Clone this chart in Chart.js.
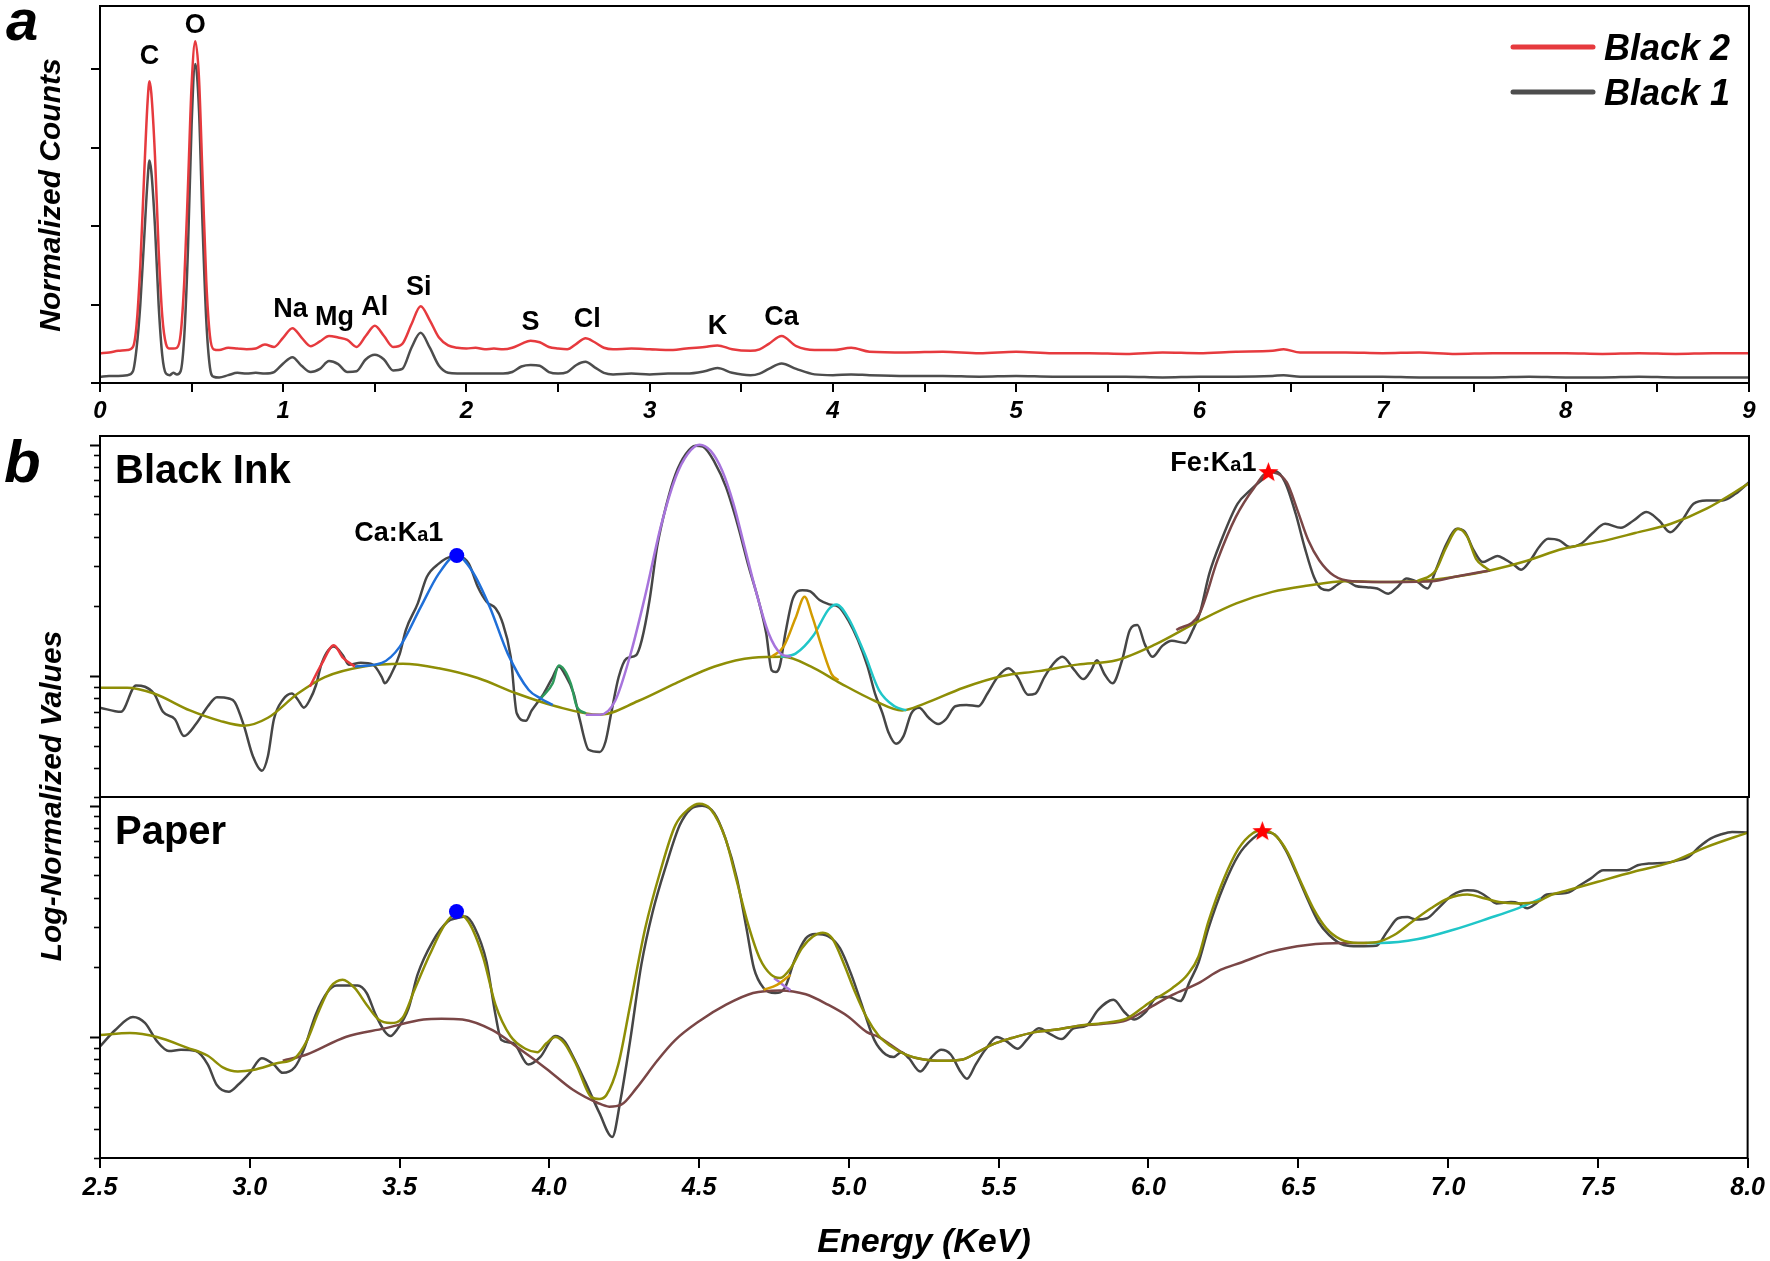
<!DOCTYPE html>
<html>
<head>
<meta charset="utf-8">
<script src="https://cdn.jsdelivr.net/npm/chart.js@4.4.1/dist/chart.umd.min.js"></script>
<style>
  html, body { margin: 0; padding: 0; background: #fff; }
  #wrap { position: relative; width: 1770px; height: 1261px; }
  #wrap canvas { position: absolute; left: 0; top: 0; }
</style>
</head>
<body>
<div id="wrap">
  <canvas id="chartA" width="1770" height="1261"></canvas>
  <canvas id="chartInk" width="1770" height="1261"></canvas>
  <canvas id="chartPaper" width="1770" height="1261"></canvas>
</div>
<script>
// ---- panel a : EDS spectra (energy in keV, normalized counts) ----
const energyA = [
  0, 0.05, 0.1, 0.15,
  0.18, 0.2, 0.22, 0.24, 0.26, 0.27, 0.28, 0.3, 0.32, 0.34, 0.36, 0.38, 0.4,
  0.42, 0.44, 0.46, 0.48, 0.5, 0.52, 0.54, 0.56, 0.58, 0.6, 0.62, 0.65,
  0.7, 0.75, 0.8, 0.85, 0.9, 0.95, 1.0, 1.05, 1.1, 1.15, 1.2, 1.25, 1.3, 1.35, 1.4, 1.45, 1.5, 1.55, 1.6, 1.65, 1.7, 1.75, 1.8, 1.85, 1.9, 1.95,
  2.0, 2.05, 2.1, 2.15, 2.2, 2.25, 2.3, 2.35, 2.4, 2.45, 2.5, 2.55, 2.6, 2.65, 2.7, 2.75, 2.8,
  2.9, 3.0, 3.1, 3.2, 3.3, 3.37, 3.45, 3.55, 3.6, 3.65, 3.72, 3.8, 3.9, 4.0, 4.1, 4.2,
  4.4, 4.6, 4.8, 5.0, 5.2, 5.4, 5.6, 5.8, 6.0, 6.2, 6.4, 6.46, 6.55, 6.8, 7.0, 7.2, 7.4, 7.6, 7.8, 8.0, 8.2, 8.4, 8.6, 8.8, 9.0
];
const black2Counts = [
  0.38, 0.39, 0.41, 0.42,
  0.46, 0.75, 1.5, 2.6, 3.6, 3.85, 3.7, 2.9, 1.7, 0.85, 0.5, 0.44, 0.44,
  0.45, 0.62, 1.3, 2.5, 3.8, 4.36, 3.9, 2.6, 1.3, 0.6, 0.43, 0.42,
  0.45, 0.44, 0.43, 0.44, 0.49, 0.46, 0.58, 0.70, 0.58, 0.47, 0.53, 0.60, 0.58, 0.55, 0.46, 0.60, 0.73, 0.60, 0.46, 0.50, 0.75, 0.98, 0.80, 0.58, 0.48, 0.45,
  0.44, 0.45, 0.43, 0.44, 0.43, 0.45, 0.50, 0.54, 0.52, 0.46, 0.44, 0.43, 0.50, 0.57, 0.52, 0.45, 0.43,
  0.44, 0.43, 0.42, 0.44, 0.46, 0.48, 0.43, 0.41, 0.43, 0.50, 0.60, 0.47, 0.42, 0.42, 0.45, 0.40,
  0.39, 0.40, 0.38, 0.40, 0.38, 0.38, 0.37, 0.39, 0.38, 0.40, 0.41, 0.43, 0.39, 0.39, 0.38, 0.39, 0.37, 0.38, 0.38, 0.38, 0.37, 0.38, 0.37, 0.38, 0.38
];
const black1Counts = [
  0.08, 0.09, 0.09, 0.10,
  0.15, 0.45, 1.0, 1.8, 2.6, 2.84, 2.7, 2.0, 1.0, 0.35, 0.12, 0.10, 0.13,
  0.11, 0.15, 0.6, 1.7, 3.3, 4.07, 3.5, 2.0, 0.8, 0.2, 0.08, 0.07,
  0.10, 0.13, 0.12, 0.13, 0.12, 0.14, 0.25, 0.33, 0.22, 0.14, 0.18, 0.28, 0.24, 0.14, 0.15, 0.30, 0.36, 0.30, 0.16, 0.18, 0.45, 0.64, 0.45, 0.22, 0.13, 0.12,
  0.12, 0.12, 0.12, 0.12, 0.12, 0.14, 0.21, 0.23, 0.22, 0.14, 0.12, 0.14, 0.23, 0.27, 0.20, 0.13, 0.11,
  0.12, 0.11, 0.12, 0.12, 0.15, 0.19, 0.13, 0.10, 0.12, 0.18, 0.25, 0.18, 0.11, 0.10, 0.11, 0.10,
  0.09, 0.09, 0.08, 0.09, 0.08, 0.08, 0.08, 0.07, 0.08, 0.08, 0.09, 0.10, 0.08, 0.08, 0.08, 0.07, 0.07, 0.07, 0.08, 0.07, 0.07, 0.08, 0.07, 0.07, 0.07
];
const elementNames = ['C', 'O', 'Na', 'Mg', 'Al', 'Si', 'S', 'Cl', 'K', 'Ca'];
const elementEnergy = [0.27, 0.52, 1.04, 1.28, 1.5, 1.74, 2.35, 2.66, 3.37, 3.72];
const axisATicks = [0, 1, 2, 3, 4];

// ---- panel b : Black Ink (log-normalized) ----
const inkRaw = [
  [2.5,0.73],[2.57,0.70],[2.62,0.91],[2.68,0.84],[2.71,0.70],[2.75,0.65],[2.78,0.55],[2.82,0.62],[2.86,0.74],[2.89,0.81],
  [2.93,0.80],[2.95,0.77],[2.98,0.61],[3.01,0.45],[3.04,0.39],[3.06,0.45],[3.08,0.65],[3.11,0.79],[3.14,0.84],[3.16,0.79],
  [3.18,0.73],[3.2,0.79],[3.22,0.91],[3.24,1.14],[3.28,1.34],[3.31,1.23],[3.33,1.12],[3.37,1.14],[3.41,1.12],[3.44,0.99],
  [3.45,0.93],[3.47,1.01],[3.5,1.25],[3.52,1.58],[3.56,2.06],[3.59,2.68],[3.63,3.06],[3.67,3.27],[3.7,3.27],[3.73,3.06],
  [3.76,2.43],[3.79,2.09],[3.82,1.96],[3.84,1.74],[3.87,1.21],[3.89,0.69],[3.92,0.64],[3.94,0.71],[3.98,0.84],[4.01,0.99],
  [4.03,1.10],[4.05,1.02],[4.08,0.84],[4.1,0.65],[4.13,0.48],[4.167,0.47],[4.186,0.52],[4.205,0.69],[4.23,0.99],[4.256,1.19],
  [4.288,1.23],[4.307,1.43],[4.333,2.13],[4.358,3.61],[4.39,5.55],[4.42,7.48],[4.454,9.12],[4.486,9.9],[4.511,9.8],[4.55,8.39],
  [4.588,6.55],[4.626,4.55],[4.664,2.96],[4.696,2.13],[4.722,1.53],[4.74,1.06],[4.754,1.04],[4.767,1.10],[4.786,1.53],[4.811,2.16],
  [4.843,2.35],[4.869,2.32],[4.9,2.13],[4.932,2.04],[4.964,1.99],[4.996,1.74],[5.028,1.43],[5.06,1.10],[5.085,0.84],[5.11,0.69],
  [5.13,0.57],[5.155,0.51],[5.18,0.55],[5.206,0.69],[5.232,0.73],[5.264,0.66],[5.296,0.62],[5.321,0.65],[5.353,0.74],[5.39,0.75],
  [5.43,0.74],[5.46,0.84],[5.494,0.99],[5.53,1.08],[5.56,0.99],[5.595,0.83],[5.62,0.84],[5.65,0.99],[5.685,1.15],[5.71,1.21],
  [5.75,1.06],[5.78,0.97],[5.806,1.06],[5.825,1.17],[5.85,1.02],[5.877,0.93],[5.909,1.17],[5.935,1.58],[5.96,1.66],[5.985,1.37],
  [6.01,1.21],[6.043,1.35],[6.075,1.42],[6.12,1.39],[6.145,1.58],[6.168,1.86],[6.2,2.77],[6.24,3.86],[6.294,5.55],[6.336,6.34],
  [6.373,7.0],[6.42,7.67],[6.452,6.9],[6.488,5.03],[6.518,3.6],[6.549,2.68],[6.573,2.39],[6.597,2.35],[6.627,2.48],[6.652,2.59],
  [6.688,2.45],[6.725,2.42],[6.76,2.39],[6.797,2.27],[6.827,2.42],[6.858,2.64],[6.894,2.55],[6.928,2.39],[6.955,2.86],[6.991,3.73],
  [7.027,4.33],[7.052,4.2],[7.082,3.49],[7.112,3.11],[7.136,3.2],[7.161,3.3],[7.185,3.2],[7.215,3.03],[7.24,2.88],[7.27,3.15],
  [7.3,3.61],[7.33,3.92],[7.367,3.86],[7.403,3.61],[7.44,3.73],[7.476,4.12],[7.52,4.55],[7.573,4.37],[7.615,4.7],[7.658,5.11],
  [7.7,4.7],[7.737,4.18],[7.773,4.63],[7.815,5.55],[7.858,5.74],[7.912,5.74],[7.955,6.13],[8.0,6.88]
];
const inkBackground = [
  [2.5,0.89],[2.59,0.89],[2.68,0.84],[2.8,0.71],[2.9,0.64],[2.98,0.61],[3.06,0.66],[3.16,0.84],[3.25,0.99],[3.38,1.10],
  [3.51,1.13],[3.63,1.08],[3.76,0.98],[3.89,0.84],[4.02,0.74],[4.167,0.68],[4.295,0.78],[4.42,0.93],[4.55,1.10],[4.677,1.2],
  [4.78,1.21],[4.87,1.10],[4.97,0.93],[5.085,0.78],[5.175,0.71],[5.25,0.76],[5.38,0.89],[5.51,1.0],[5.63,1.05],[5.76,1.12],
  [5.89,1.17],[6.02,1.37],[6.17,1.74],[6.29,2.06],[6.41,2.31],[6.53,2.46],[6.65,2.57],[6.77,2.55],[6.89,2.57],[7.015,2.68],
  [7.136,2.86],[7.26,3.15],[7.38,3.55],[7.5,3.8],[7.62,4.15],[7.74,4.55],[7.86,5.3],[8.0,6.8]
];
const inkPeakK = [[3.2,0.9],[3.24,1.13],[3.28,1.36],[3.31,1.2],[3.35,1.1]];
const inkPeakCa = [[3.35,1.1],[3.44,1.14],[3.5,1.34],[3.57,1.99],[3.63,2.77],[3.69,3.32],[3.74,2.86],[3.8,1.99],[3.86,1.25],[3.93,0.87],[3.97,0.80],[4.01,0.75]];
const inkPeak403 = [[3.97,0.80],[4.01,0.93],[4.03,1.11],[4.07,0.93],[4.09,0.74],[4.12,0.69]];
const inkPeak450 = [[4.12,0.68],[4.167,0.68],[4.218,0.78],[4.27,1.25],[4.32,2.27],[4.37,4.4],[4.42,7.23],[4.46,9.12],[4.5,10.0],[4.537,9.4],[4.575,7.73],[4.613,5.55],[4.65,3.61],[4.69,2.27],[4.73,1.53],[4.77,1.25],[4.805,1.21]];
const inkPeak485 = [[4.74,1.21],[4.78,1.34],[4.82,1.78],[4.85,2.2],[4.875,1.82],[4.907,1.34],[4.94,1.02],[4.963,0.96]];
const inkPeak496 = [[4.77,1.21],[4.82,1.25],[4.88,1.5],[4.93,1.94],[4.956,2.04],[4.996,1.78],[5.05,1.25],[5.098,0.87],[5.15,0.74],[5.19,0.71]];
const inkPeakFe = [[6.09,1.58],[6.167,1.86],[6.227,3.16],[6.288,4.86],[6.349,6.5],[6.397,7.6],[6.458,6.88],[6.494,5.2],[6.53,3.86],[6.567,3.16],[6.615,2.72],[6.676,2.57],[6.773,2.55],[6.943,2.57],[7.015,2.68],[7.136,2.86]];
const inkPeak705 = [[6.894,2.57],[6.955,2.86],[6.99,3.6],[7.03,4.33],[7.06,4.0],[7.09,3.2],[7.12,2.95],[7.136,2.86]];
const inkCaMark = [[3.69, 3.32]];
const inkFeMark = [[6.397, 7.65]];

// ---- panel b : Paper ----
const paperRaw = [
  [2.5,0.91],[2.55,1.07],[2.61,1.22],[2.65,1.15],[2.69,0.96],[2.73,0.87],[2.77,0.88],[2.82,0.87],[2.86,0.76],[2.89,0.62],
  [2.93,0.58],[2.96,0.62],[3.0,0.70],[3.04,0.81],[3.08,0.76],[3.11,0.70],[3.15,0.74],[3.18,0.88],[3.22,1.25],[3.26,1.57],
  [3.29,1.67],[3.36,1.67],[3.39,1.55],[3.42,1.25],[3.45,1.06],[3.47,1.01],[3.49,1.07],[3.53,1.33],[3.56,1.86],[3.61,2.58],
  [3.66,3.15],[3.69,3.26],[3.72,3.32],[3.75,2.98],[3.79,2.12],[3.82,1.25],[3.84,0.97],[3.88,0.94],[3.93,0.76],[3.97,0.82],
  [4.02,1.01],[4.05,0.96],[4.08,0.82],[4.12,0.64],[4.167,0.47],[4.21,0.37],[4.237,0.53],[4.27,0.97],[4.307,2.05],[4.345,3.48],
  [4.39,5.53],[4.435,8.22],[4.473,9.7],[4.51,10.0],[4.55,9.3],[4.588,7.2],[4.626,4.84],[4.658,2.95],[4.683,1.98],[4.715,1.63],
  [4.754,1.55],[4.786,1.63],[4.817,2.12],[4.856,2.67],[4.888,2.79],[4.932,2.72],[4.97,2.42],[5.008,1.86],[5.047,1.33],[5.085,0.97],
  [5.123,0.84],[5.149,0.82],[5.175,0.86],[5.2,0.81],[5.238,0.71],[5.277,0.82],[5.308,0.88],[5.34,0.84],[5.372,0.71],[5.394,0.66],
  [5.423,0.76],[5.455,0.88],[5.494,1.0],[5.525,0.96],[5.564,0.89],[5.596,0.98],[5.634,1.09],[5.672,1.03],[5.71,0.98],[5.75,1.09],
  [5.793,1.12],[5.832,1.31],[5.883,1.45],[5.92,1.28],[5.953,1.19],[5.99,1.28],[6.03,1.49],[6.067,1.49],[6.106,1.43],[6.138,1.74],
  [6.167,2.1],[6.2,2.95],[6.252,4.53],[6.3,6.1],[6.348,7.2],[6.385,7.7],[6.421,7.5],[6.458,6.42],[6.494,5.09],[6.53,3.97],
  [6.567,3.15],[6.603,2.76],[6.652,2.5],[6.7,2.47],[6.76,2.48],[6.797,2.86],[6.833,3.26],[6.864,3.3],[6.894,3.22],[6.93,3.26],
  [6.967,3.6],[7.015,4.11],[7.064,4.31],[7.1,4.25],[7.136,3.98],[7.161,3.78],[7.21,3.83],[7.236,3.78],[7.264,3.6],[7.294,3.78],
  [7.33,4.13],[7.379,4.17],[7.403,4.22],[7.44,4.53],[7.476,4.84],[7.518,5.26],[7.561,5.26],[7.597,5.26],[7.633,5.53],[7.67,5.62],
  [7.73,5.67],[7.767,5.8],[7.803,6.01],[7.839,6.64],[7.876,7.2],[7.912,7.52],[7.948,7.7],[8.0,7.65]
];
const paperFit = [
  [2.5,1.02],[2.6,1.04],[2.69,1.0],[2.79,0.9],[2.86,0.83],[2.91,0.74],[2.96,0.71],[3.01,0.72],[3.09,0.77],[3.15,0.81],
  [3.19,0.96],[3.23,1.29],[3.27,1.65],[3.31,1.77],[3.35,1.63],[3.39,1.38],[3.43,1.19],[3.47,1.15],[3.51,1.21],[3.55,1.6],
  [3.6,2.26],[3.65,3.05],[3.69,3.42],[3.73,3.15],[3.78,2.19],[3.82,1.38],[3.87,1.01],[3.92,0.89],[3.96,0.86],[3.99,0.94],
  [4.02,1.0],[4.05,0.94],[4.09,0.76],[4.14,0.55],[4.167,0.54],[4.19,0.56],[4.23,0.76],[4.27,1.38],[4.32,2.95],[4.37,5.18],
  [4.42,8.2],[4.466,9.7],[4.5,10.2],[4.537,9.7],[4.588,7.2],[4.626,4.7],[4.664,3.05],[4.702,2.19],[4.74,1.86],[4.77,1.8],
  [4.805,1.98],[4.843,2.42],[4.88,2.72],[4.913,2.82],[4.944,2.67],[4.982,2.09],[5.02,1.57],[5.06,1.21],[5.1,1.01],[5.136,0.92],
  [5.19,0.84],[5.25,0.8],[5.315,0.79],[5.38,0.8],[5.43,0.86],[5.48,0.93],[5.544,0.99],[5.62,1.05],[5.7,1.08],[5.77,1.12],
  [5.85,1.15],[5.926,1.2],[6.0,1.4],[6.08,1.63],[6.13,1.86],[6.167,2.23],[6.2,3.15],[6.252,4.84],[6.3,6.5],[6.348,7.6],
  [6.38,7.8],[6.42,7.5],[6.464,6.3],[6.506,4.76],[6.55,3.6],[6.594,2.95],[6.64,2.65],[6.7,2.55],[6.76,2.57],[6.82,2.76],
  [6.88,3.15],[6.943,3.6],[7.0,3.97],[7.064,4.13],[7.124,3.97],[7.17,3.83],[7.233,3.78],[7.294,3.83],[7.343,4.11],[7.4,4.31],
  [7.5,4.69],[7.62,5.18],[7.74,5.67],[7.864,6.64],[8.0,7.65]
];
const paperBackground = [
  [3.11,0.79],[3.19,0.84],[3.32,1.0],[3.45,1.09],[3.58,1.19],[3.64,1.2],[3.71,1.19],[3.81,1.07],[3.9,0.89],[3.99,0.73],
  [4.08,0.59],[4.16,0.52],[4.2,0.5],[4.24,0.51],[4.29,0.6],[4.36,0.79],[4.42,0.97],[4.5,1.17],[4.59,1.38],[4.68,1.55],
  [4.77,1.59],[4.856,1.53],[4.93,1.38],[4.996,1.23],[5.06,1.05],[5.1,1.0],[5.19,0.84],[5.25,0.8],[5.315,0.79],[5.38,0.8],
  [5.43,0.86],[5.48,0.93],[5.544,0.99],[5.62,1.05],[5.7,1.08],[5.77,1.12],[5.85,1.14],[5.926,1.18],[6.0,1.33],[6.08,1.52],
  [6.167,1.71],[6.24,1.95],[6.31,2.1],[6.41,2.34],[6.53,2.5],[6.652,2.55],[6.73,2.55]
];
const paperPeak485 = [[4.715,1.6],[4.76,1.68],[4.805,1.86]];
const paperPeak475 = [[4.75,1.8],[4.78,1.68],[4.805,1.59]];
const paperPeak710 = [[6.73,2.55],[6.776,2.55],[6.9,2.65],[7.015,2.9],[7.136,3.26],[7.233,3.6],[7.31,3.97]];
const paperCaMark = [[3.69, 3.49]];
const paperFeMark = [[6.38, 7.8]];

const logTickValues = [0.3, 0.4, 0.5, 0.6, 0.7, 0.8, 0.9, 1, 2, 3, 4, 5, 6, 7, 8, 9, 10];
const logMajorTicks = [1, 10];

// ---------------------------------------------------------------
const FONT = "'Liberation Sans', Arial, Helvetica, sans-serif";
const C_RAW = '#464646';
const C_OLIVE = '#8e8e06';
const C_BROWN = '#7a4646';

const pts = arr => arr.map(([x, y]) => ({ x, y }));
const zip = (xs, ys) => xs.map((x, i) => ({ x, y: ys[i] }));

function line(label, data, color, order, width) {
  return {
    label, data, borderColor: color, backgroundColor: color,
    borderWidth: width || 2.5, pointRadius: 0, showLine: true,
    cubicInterpolationMode: 'monotone', order
  };
}

function makeStar(size, color) {
  const c = document.createElement('canvas');
  c.width = size; c.height = size;
  const g = c.getContext('2d');
  const cx = size / 2, cy = size / 2 + 1, R = size / 2, r = R * 0.42;
  g.fillStyle = color;
  g.beginPath();
  for (let i = 0; i < 10; i++) {
    const ang = -Math.PI / 2 + i * Math.PI / 5;
    const rad = i % 2 ? r : R;
    g.lineTo(cx + rad * Math.cos(ang), cy + rad * Math.sin(ang));
  }
  g.closePath();
  g.fill();
  return c;
}
const starImg = makeStar(21, '#ff0000');

function marker(label, data, style) {
  if (style === 'star') {
    return { label, data: pts(data), pointStyle: starImg, pointRadius: 10, showLine: false, order: 0 };
  }
  return { label, data: pts(data), pointStyle: 'circle', pointRadius: 7.5, backgroundColor: '#0000ff',
           borderColor: '#0000ff', borderWidth: 0, showLine: false, order: 0 };
}

function drawText(ctx, str, x, y, font, align, rot) {
  ctx.save();
  ctx.font = font;
  ctx.fillStyle = '#000';
  ctx.textAlign = align || 'left';
  ctx.textBaseline = 'alphabetic';
  ctx.translate(x, y);
  if (rot) ctx.rotate(rot);
  ctx.fillText(str, 0, 0);
  ctx.restore();
}

// label like "Ca:Ka1" with a smaller 'a'
function drawLineName(ctx, el, x, y, align) {
  const parts = [[el + ':K', 27], ['a', 20], ['1', 27]];
  ctx.save();
  ctx.fillStyle = '#000';
  ctx.textBaseline = 'alphabetic';
  ctx.textAlign = 'left';
  let total = 0;
  parts.forEach(([t, s]) => { ctx.font = 'bold ' + s + 'px ' + FONT; total += ctx.measureText(t).width; });
  let cx = align === 'center' ? x - total / 2 : (align === 'right' ? x - total : x);
  parts.forEach(([t, s]) => {
    ctx.font = 'bold ' + s + 'px ' + FONT;
    ctx.fillText(t, cx, y);
    cx += ctx.measureText(t).width;
  });
  ctx.restore();
}

function drawFrame(ctx, a) {
  ctx.save();
  ctx.strokeStyle = '#000';
  ctx.lineWidth = 2;
  ctx.strokeRect(a.left, a.top, a.right - a.left, a.bottom - a.top);
  ctx.restore();
}

function drawLogTicks(chart) {
  const { ctx, chartArea: a, scales: { y } } = chart;
  ctx.save();
  ctx.strokeStyle = '#000';
  logTickValues.forEach(v => {
    const py = Math.round(y.getPixelForValue(v)) + 0.5;
    if (py < a.top - 1 || py > a.bottom + 1) return;
    const major = logMajorTicks.includes(v);
    ctx.lineWidth = major ? 2 : 1.6;
    ctx.beginPath();
    ctx.moveTo(a.left, py);
    ctx.lineTo(a.left - (major ? 10 : 6), py);
    ctx.stroke();
  });
  ctx.restore();
}

// ---------------- panel a ----------------
const panelAPlugin = {
  id: 'panelA',
  afterDraw(chart) {
    const { ctx, chartArea: a, scales: { x, y } } = chart;
    drawFrame(ctx, a);
    // element labels above the Black 2 peaks
    const red = chart.data.datasets[0].data;
    const lift = { C: 17, O: 8 };
    elementNames.forEach((name, i) => {
      const e = elementEnergy[i];
      let top = 0;
      red.forEach(p => { if (Math.abs(p.x - e) <= 0.05 && p.y > top) top = p.y; });
      const px = x.getPixelForValue(e);
      const py = y.getPixelForValue(top) - (lift[name] || 11);
      drawText(ctx, name, px, py, 'bold 27px ' + FONT, 'center');
    });
    // legend
    chart.data.datasets.forEach((ds, i) => {
      const ly = 47 + i * 45;
      ctx.save();
      ctx.strokeStyle = ds.borderColor;
      ctx.lineWidth = 5;
      ctx.lineCap = 'round';
      ctx.beginPath();
      ctx.moveTo(1513, ly);
      ctx.lineTo(1593, ly);
      ctx.stroke();
      ctx.restore();
      drawText(ctx, ds.label, 1604, ly + 13, 'italic bold 36px ' + FONT, 'left');
    });
    drawText(ctx, 'a', 6, 40, 'italic bold 58px ' + FONT, 'left');
    drawText(ctx, 'Normalized Counts', 60, 195, 'italic bold 30px ' + FONT, 'center', -Math.PI / 2);
  }
};

new Chart(document.getElementById('chartA'), {
  type: 'scatter',
  data: {
    datasets: [
      line('Black 2', zip(energyA, black2Counts), '#e63a3e', 1, 2.5),
      line('Black 1', zip(energyA, black1Counts), '#4d4d4d', 2, 2.5)
    ]
  },
  options: {
    responsive: false,
    animation: false,
    layout: { padding: { top: 6, right: 21, left: 0, bottom: 821 } },
    plugins: { legend: { display: false }, tooltip: { enabled: false } },
    elements: { line: { tension: 0 } },
    scales: {
      x: {
        type: 'linear', min: 0, max: 9,
        afterFit: s => { s.height = 57; },
        ticks: {
          stepSize: 0.5, autoSkip: false, maxRotation: 0, padding: 5, color: '#000',
          font: { family: FONT, size: 24, style: 'italic', weight: 'bold' },
          callback: v => Number.isInteger(v) ? String(v) : ''
        },
        grid: { drawOnChartArea: false, drawTicks: true, tickLength: 9, color: '#000', lineWidth: 2 },
        border: { display: false }
      },
      y: {
        type: 'linear', min: 0, max: 4.81,
        afterFit: s => { s.width = 100; },
        afterBuildTicks: s => { s.ticks = axisATicks.map(v => ({ value: v })); },
        ticks: { display: false },
        grid: { drawOnChartArea: false, drawTicks: true, tickLength: 9, color: '#000', lineWidth: 2 },
        border: { display: false }
      }
    }
  },
  plugins: [panelAPlugin]
});

// ---------------- panel b : Black Ink ----------------
const inkPlugin = {
  id: 'inkPanel',
  afterDraw(chart) {
    const { ctx, chartArea: a, scales: { x, y } } = chart;
    drawLogTicks(chart);
    drawFrame(ctx, a);
    drawText(ctx, 'b', 4, 482, 'italic bold 60px ' + FONT, 'left');
    drawText(ctx, 'Black Ink', 115, 483, 'bold 40px ' + FONT, 'left');
    const ca = inkCaMark[0], fe = inkFeMark[0];
    drawLineName(ctx, 'Ca', x.getPixelForValue(ca[0]) - 58, y.getPixelForValue(ca[1]) - 14, 'center');
    drawLineName(ctx, 'Fe', x.getPixelForValue(fe[0]) - 12, y.getPixelForValue(fe[1]) - 1, 'right');
  }
};

new Chart(document.getElementById('chartInk'), {
  type: 'scatter',
  data: {
    datasets: [
      line('Black Ink', pts(inkRaw), C_RAW, 6),
      line('Background', pts(inkBackground), C_OLIVE, 4),
      line('K', pts(inkPeakK), '#e8383d', 3),
      line('Ca', pts(inkPeakCa), '#1f6fd8', 3),
      line('4.03', pts(inkPeak403), '#2e9a5c', 3),
      line('4.50', pts(inkPeak450), '#a774dc', 3),
      line('4.85', pts(inkPeak485), '#d29b00', 3),
      line('4.96', pts(inkPeak496), '#20c6c8', 3),
      line('Fe', pts(inkPeakFe), C_BROWN, 3),
      line('7.05', pts(inkPeak705), C_OLIVE, 2),
      marker('Ca:Ka1', inkCaMark, 'dot'),
      marker('Fe:Ka1', inkFeMark, 'star')
    ]
  },
  options: {
    responsive: false,
    animation: false,
    layout: { padding: { top: 436, right: 21, left: 100, bottom: 464 } },
    plugins: { legend: { display: false }, tooltip: { enabled: false } },
    scales: {
      x: { type: 'linear', min: 2.5, max: 8.0, display: false },
      y: { type: 'logarithmic', min: 0.3, max: 10.9, display: false }
    }
  },
  plugins: [inkPlugin]
});

// ---------------- panel b : Paper ----------------
const paperPlugin = {
  id: 'paperPanel',
  afterDraw(chart) {
    const { ctx, chartArea: a } = chart;
    drawLogTicks(chart);
    drawFrame(ctx, a);
    drawText(ctx, 'Paper', 115, 844, 'bold 40px ' + FONT, 'left');
    drawText(ctx, 'Log-Normalized Values', 61, 796, 'italic bold 30px ' + FONT, 'center', -Math.PI / 2);
    drawText(ctx, 'Energy (KeV)', 924, 1252, 'italic bold 34px ' + FONT, 'center');
  }
};

new Chart(document.getElementById('chartPaper'), {
  type: 'scatter',
  data: {
    datasets: [
      line('Paper', pts(paperRaw), C_RAW, 6),
      line('Background', pts(paperBackground), C_BROWN, 4),
      line('4.85', pts(paperPeak485), '#d29b00', 3),
      line('4.75', pts(paperPeak475), '#a774dc', 3),
      line('7.10', pts(paperPeak710), '#20c6c8', 3),
      line('Fit', pts(paperFit), C_OLIVE, 2),
      marker('Ca:Ka1', paperCaMark, 'dot'),
      marker('Fe:Ka1', paperFeMark, 'star')
    ]
  },
  options: {
    responsive: false,
    animation: false,
    layout: { padding: { top: 797, right: 21, left: 100, bottom: 43 } },
    plugins: { legend: { display: false }, tooltip: { enabled: false } },
    scales: {
      x: {
        type: 'linear', min: 2.5, max: 8.0,
        afterFit: s => { s.height = 60; },
        ticks: {
          stepSize: 0.5, autoSkip: false, maxRotation: 0, padding: 5, color: '#000',
          font: { family: FONT, size: 25, style: 'italic', weight: 'bold' },
          callback: v => v.toFixed(1)
        },
        grid: { drawOnChartArea: false, drawTicks: true, tickLength: 10, color: '#000', lineWidth: 2 },
        border: { display: false }
      },
      y: { type: 'logarithmic', min: 0.3, max: 10.9, display: false }
    }
  },
  plugins: [paperPlugin]
});
</script>
</body>
</html>
